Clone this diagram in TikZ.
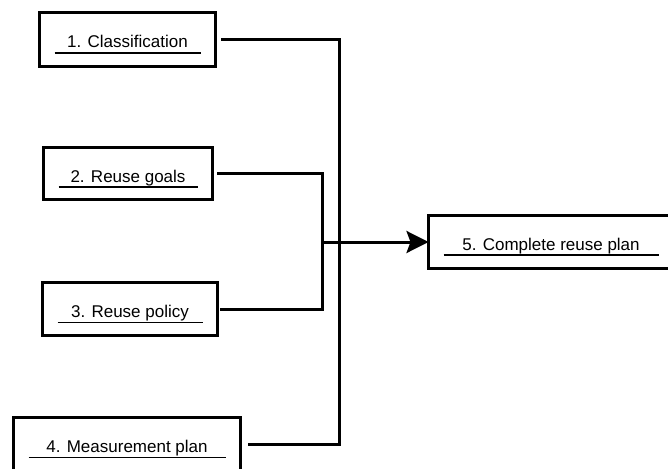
\documentclass[tikz,border=0pt]{standalone}
\usepackage{fontspec}
\setmainfont{Liberation Sans}
\usetikzlibrary{arrows.meta,calc}
\begin{document}
\begin{tikzpicture}[x=1pt,y=-1pt,
  stepbox/.style={draw,line width=3pt,inner sep=0pt,outer sep=0pt},
  link/.style={line width=3pt},
  uline/.style={line width=1.3pt},
  steptext/.style={font=\fontsize{17}{20}\selectfont,inner sep=0pt,anchor=base}]
\clip (0,0) rectangle (668,468);

% step boxes
\node[stepbox,minimum width=176pt,minimum height=54pt] (b1) at (127.5,39.5) {};
\node[stepbox,minimum width=169pt,minimum height=52pt] (b2) at (128,173.5) {};
\node[stepbox,minimum width=175pt,minimum height=53pt] (b3) at (130,309) {};
\node[stepbox,minimum width=227pt,minimum height=53pt] (b4) at (127,444) {};
\node[stepbox,minimum width=245pt,minimum height=53pt] (b5) at (551,241.5) {};

% underlined titles
\foreach \b/\t in {b1/1. Classification, b2/2. Reuse goals, b3/3. Reuse policy,
                   b4/4. Measurement plan, b5/5. Complete reuse plan}{
  \node[steptext] (\b t) at ($(\b.center)+(0,8.5)$) {\t};
  \draw[uline] ($(\b.west)+(15,13.5)$) -- ($(\b.east)+(-15,13.5)$);
}

% connectors
\coordinate (bus) at (339,242);
\coordinate (join) at (322,242);
\draw[link] ([xshift=5.5pt]b1.east) -| (bus |- b4.east) -- ([xshift=7.5pt]b4.east);
\draw[link] ([xshift=4.5pt]b2.east) -| (join |- b3.east) -- ([xshift=2pt]b3.east);
\draw[link,-{Stealth[length=22pt,width=22pt,inset=4pt]}] (join) -- (join -| b5.west);
\end{tikzpicture}
\end{document}
